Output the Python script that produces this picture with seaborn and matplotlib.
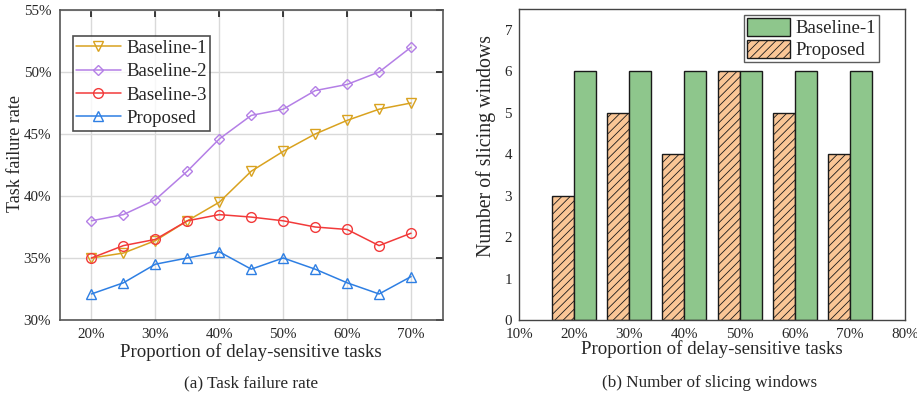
import matplotlib
matplotlib.use("Agg")
import matplotlib.pyplot as plt
import seaborn as sns
import pandas as pd
from matplotlib.ticker import FuncFormatter, MultipleLocator
from matplotlib.patches import Patch

# ---------------- data ----------------
props_line = [20, 25, 30, 35, 40, 45, 50, 55, 60, 65, 70]
baseline1 = [35.0, 35.4, 36.4, 38.0, 39.5, 42.0, 43.6, 45.0, 46.1, 47.0, 47.5]
baseline2 = [38.0, 38.5, 39.7, 42.0, 44.6, 46.5, 47.0, 48.5, 49.0, 50.0, 52.0]
baseline3 = [35.0, 36.0, 36.5, 38.0, 38.5, 38.3, 38.0, 37.5, 37.3, 36.0, 37.0]
proposed_line = [32.1, 33.0, 34.5, 35.0, 35.5, 34.1, 35.0, 34.1, 33.0, 32.1, 33.5]

props_bar = [20, 30, 40, 50, 60, 70]
windows_baseline1 = [6, 6, 6, 6, 6, 6]
windows_proposed = [3, 5, 4, 6, 5, 4]

sns.set_theme(style="white")
plt.rcParams['font.family'] = ['Liberation Serif', 'DejaVu Serif']
plt.rcParams['hatch.color'] = "#6b4a2a"
plt.rcParams['hatch.linewidth'] = 0.6

fig = plt.figure(figsize=(9.17, 4.03), dpi=100)
W, H = 917, 403
ax1 = fig.add_axes([59.5 / W, (H - 320) / H, (443 - 59.5) / W, (320 - 10) / H])
ax2 = fig.add_axes([519 / W, (H - 320) / H, (905 - 519) / W, (320 - 9) / H])

# ---------------- left: line chart ----------------
series = [
    ("Baseline-1", baseline1, "#D9A21F", "v"),
    ("Baseline-2", baseline2, "#B47FE6", "D"),
    ("Baseline-3", baseline3, "#F23A3A", "o"),
    ("Proposed", proposed_line, "#2E7FE3", "^"),
]
for name, vals, col, mk in series:
    ms = 5.5 if mk == "D" else 7
    sns.lineplot(x=props_line, y=vals, ax=ax1, color=col, marker=mk,
                 markersize=ms, markerfacecolor="none", markeredgecolor=col,
                 markeredgewidth=1.0, linewidth=1.1, label=name)

ax1.set_xlim(15, 75)
ax1.set_ylim(30, 55)
ax1.xaxis.set_major_locator(MultipleLocator(10))
ax1.yaxis.set_major_locator(MultipleLocator(5))
ax1.xaxis.set_major_formatter(FuncFormatter(lambda v, p: f"{int(round(v))}%"))
ax1.yaxis.set_major_formatter(FuncFormatter(lambda v, p: f"{int(round(v))}%"))
ax1.grid(True, color="#d9d9d9", linewidth=1.0)
ax1.set_axisbelow(True)
ax1.tick_params(direction="in", length=5, top=True, right=True, labelsize=10.8,
                color="#222222", pad=6)
for s in ax1.spines.values():
    s.set_color("#555555")
    s.set_linewidth(1.2)
ax1.set_xlabel("Proportion of delay-sensitive tasks", fontsize=13.6, labelpad=1)
ax1.set_ylabel("Task failure rate", fontsize=13)
ax1.yaxis.set_label_coords((24 - 59.5) / 383.5, (320 - 153.5) / 310)
leg1 = ax1.legend(loc="upper left", bbox_to_anchor=((72.7 - 59.5) / 383.5, (320 - 36) / 310),
                  fontsize=13.5, frameon=True, fancybox=False, edgecolor="#222222",
                  handlelength=2.35, borderpad=0.2, labelspacing=0.33,
                  handletextpad=0.3, borderaxespad=0)
leg1.get_frame().set_linewidth(1.2)

# ---------------- right: bar chart ----------------
df = pd.DataFrame({
    "prop": props_bar * 2,
    "count": windows_proposed + windows_baseline1,
    "method": ["Proposed"] * len(props_bar) + ["Baseline-1"] * len(props_bar),
})
col_green = "#8EC68C"
col_orange = "#FAC696"
sns.barplot(data=df, x="prop", y="count", hue="method",
            hue_order=["Proposed", "Baseline-1"],
            palette={"Proposed": col_orange, "Baseline-1": col_green},
            native_scale=True, width=0.8, edgecolor="#1a1a1a", linewidth=1.0,
            saturation=1, ax=ax2, legend=False, errorbar=None)
for container, hatch in zip(ax2.containers, ["////", ""]):
    for bar in container:
        bar.set_hatch(hatch)

ax2.set_xlim(10, 80)
ax2.set_ylim(0, 7.5)
ax2.xaxis.set_major_locator(MultipleLocator(10))
ax2.yaxis.set_major_locator(MultipleLocator(1))
ax2.xaxis.set_major_formatter(FuncFormatter(lambda v, p: f"{int(round(v))}%"))
ax2.tick_params(direction="in", length=0, labelsize=10.8)
ax2.tick_params(axis="x", pad=6)
ax2.tick_params(axis="y", pad=5)
for s in ax2.spines.values():
    s.set_color("#444444")
    s.set_linewidth(1.0)
ax2.set_xlabel("Proportion of delay-sensitive tasks", fontsize=13.6, labelpad=-1)
ax2.set_ylabel("Number of slicing windows", fontsize=14.3)
ax2.yaxis.set_label_coords((496 - 519) / 386, (320 - 146) / 311)
handles = [Patch(facecolor=col_green, edgecolor="#1a1a1a", label="Baseline-1"),
           Patch(facecolor=col_orange, edgecolor="#1a1a1a", hatch="////", label="Proposed")]
leg2 = ax2.legend(handles=handles, loc="upper right",
                  bbox_to_anchor=((879 - 519) / 386, (320 - 15) / 311),
                  fontsize=13.5, frameon=True, fancybox=False, edgecolor="#333333",
                  handlelength=2.3, handleheight=1.1, borderpad=0.15,
                  labelspacing=0.15, handletextpad=0.3, borderaxespad=0)
leg2.get_frame().set_linewidth(1.0)

# ---------------- captions ----------------
fig.text(251 / W, 1 - 383 / H, "(a) Task failure rate", ha="center", va="center", fontsize=12.3)
fig.text(710 / W, 1 - 383 / H, "(b) Number of slicing windows", ha="center", va="center", fontsize=12.3)

fig.savefig("out.png", dpi=100)
